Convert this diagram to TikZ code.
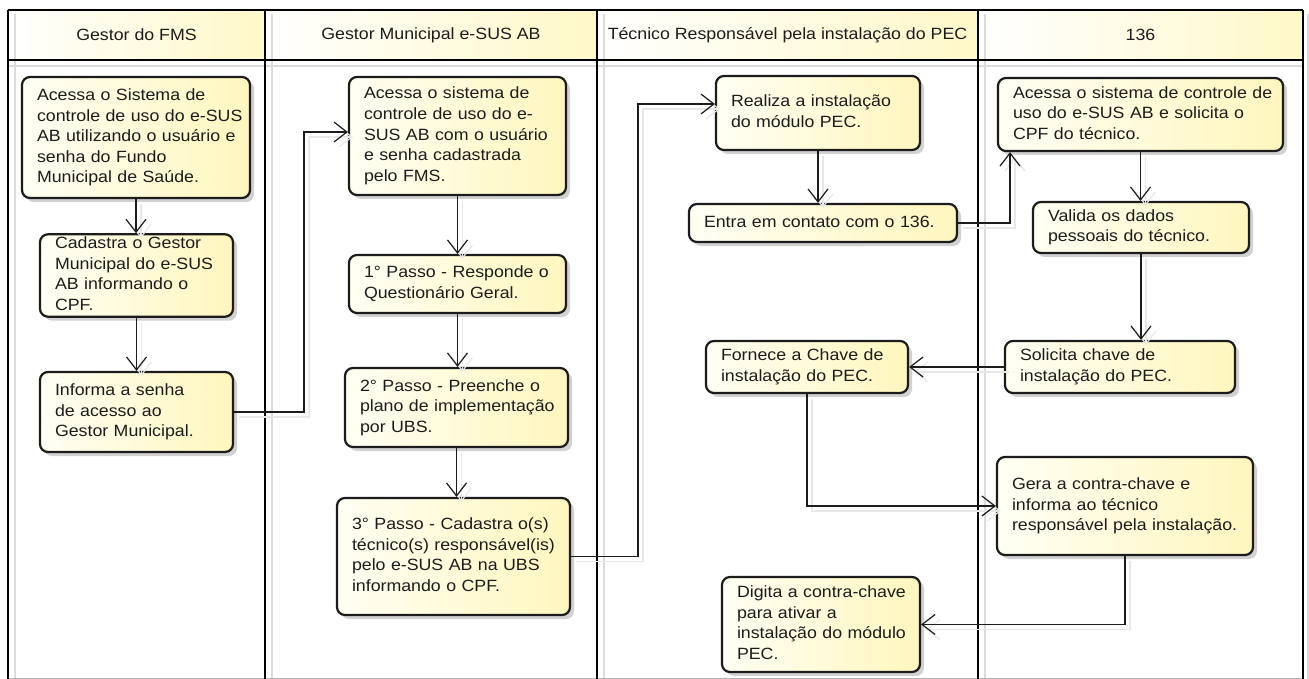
\documentclass[tikz,border=0pt]{standalone}
\usepackage{fontspec}
\setmainfont{Liberation Sans}[FakeStretch=1.09]
\usetikzlibrary{arrows.meta,shadows}
\definecolor{boxL}{RGB}{255,255,244}
\definecolor{boxR}{RGB}{255,246,190}
\definecolor{hdrR}{RGB}{255,248,200}
\definecolor{ink}{RGB}{28,28,28}
\newcommand\ml[1]{\begin{tabular}{@{}l@{}}#1\end{tabular}}
\begin{document}
\begin{tikzpicture}[x=1pt,y=-1pt,
  every node/.style={font=\fontsize{16.3}{20.6}\selectfont, text=ink},
  box/.style={draw=ink, line width=2.2pt, rounded corners=8pt,
    left color=boxL, right color=boxR, inner xsep=15pt, inner ysep=0pt, align=left,
    drop shadow={shadow xshift=4pt, shadow yshift=-4pt, fill=black!40, opacity=0.45}},
  hdr/.style={left color=white, right color=hdrR, inner sep=0pt, minimum height=50pt},
  lane/.style={draw=black, line width=2.6pt},
  lanesh/.style={draw=black!14, line width=1.6pt},
  conn/.style={draw=ink, line width=1.2pt,
    -{Straight Barb[length=13pt,width=20pt,line width=1.2pt]},
    preaction={draw=black!9, line width=1.4pt, transform canvas={xshift=5pt,yshift=-5pt}}}
]
\useasboundingbox (0,0) rectangle (1309,679);
\fill[white] (0,0) rectangle (1309,679);

% headers
\node[hdr, minimum width=257pt] (h1) at (136.5,35) {Gestor do FMS};
\node[hdr, minimum width=332pt] (h2) at (431,35) {Gestor Municipal e-SUS AB};
\node[hdr, minimum width=381pt] (h3) at (787.5,35) {Técnico Responsável pela instalação do PEC};
\node[hdr, minimum width=325pt] (h4) at (1140.5,35) {136};

% lane shadow lines
\foreach \x in {15,272,604,985,1308} \draw[lanesh] (\x,14) -- (\x,679);
\draw[lanesh] (8,66) -- (1303,66);
\draw[black!30, line width=1pt] (8,678) -- (1303,678);

% lane lines
\foreach \x in {8,265,597,978,1303} \draw[lane] (\x,10) -- (\x,679);
\draw[lane] (8,10) -- (1303,10);
\draw[lane] (8,60) -- (1303,60);

% boxes
\node[box, minimum width=228pt, minimum height=121pt, text width=198pt] (n1) at (136,137.5)
  {\ml{Acessa o Sistema de\\controle de uso do e-SUS\\AB utilizando o usuário e\\senha do Fundo\\Municipal de Saúde.}};
\node[box, minimum width=193pt, minimum height=79pt, text width=163pt] (n2) at (136.5,275.5)
  {\ml{Cadastra o Gestor\\Municipal do e-SUS\\AB informando o\\CPF.}};
\node[box, minimum width=193pt, minimum height=80pt, text width=163pt] (n3) at (136.5,412)
  {\ml{Informa a senha\\de acesso ao\\Gestor Municipal.}};
\node[box, minimum width=217pt, minimum height=118pt, text width=187pt] (n4) at (457.5,136)
  {\ml{Acessa o sistema de\\controle de uso do e-\\SUS AB com o usuário\\e senha cadastrada\\pelo FMS.}};
\node[box, minimum width=217pt, minimum height=58pt, text width=187pt] (n5) at (457.5,284)
  {\ml{1° Passo - Responde o\\Questionário Geral.}};
\node[box, minimum width=223pt, minimum height=79pt, text width=193pt] (n6) at (456.5,407.5)
  {\ml{2° Passo - Preenche o\\plano de implementação\\por UBS.}};
\node[box, minimum width=233pt, minimum height=117pt, text width=203pt] (n7) at (453.5,556.5)
  {\ml{3° Passo - Cadastra o(s)\\técnico(s) responsável(is)\\pelo e-SUS AB na UBS\\informando o CPF.}};
\node[box, minimum width=204pt, minimum height=74pt, text width=174pt] (n8) at (818,113)
  {\ml{Realiza a instalação\\do módulo PEC.}};
\node[box, minimum width=268pt, minimum height=38pt, text width=238pt] (n9) at (823,223)
  {\ml{Entra em contato com o 136.}};
\node[box, minimum width=285pt, minimum height=73pt, text width=255pt] (n10) at (1140.5,114.5)
  {\ml{Acessa o sistema de controle de\\uso do e-SUS AB e solicita o\\CPF do técnico.}};
\node[box, minimum width=216pt, minimum height=51pt, text width=186pt] (n11) at (1141,227.5)
  {\ml{Valida os dados\\pessoais do técnico.}};
\node[box, minimum width=230pt, minimum height=52pt, text width=200pt] (n12) at (1120,367)
  {\ml{Solicita chave de\\instalação do PEC.}};
\node[box, minimum width=202pt, minimum height=52pt, text width=172pt] (n13) at (807,367)
  {\ml{Fornece a Chave de\\instalação do PEC.}};
\node[box, minimum width=256pt, minimum height=98pt, text width=226pt] (n14) at (1125,506)
  {\ml{Gera a contra-chave e\\informa ao técnico\\responsável pela instalação.}};
\node[box, minimum width=198pt, minimum height=95pt, text width=168pt] (n15) at (821,624.5)
  {\ml{Digita a contra-chave\\para ativar a\\instalação do módulo\\PEC.}};

% connector bends
\coordinate (c34) at (304,132);
\coordinate (c78) at (638,104);
\coordinate (c910) at (1010,224);

% connectors
\draw[conn] (n1.south) -- (n1.south |- n2.north);
\draw[conn] (n2.south) -- (n2.south |- n3.north);
\draw[conn] (n3.east) -| (c34) -- (n4.west |- c34);
\draw[conn] (n4.south) -- (n4.south |- n5.north);
\draw[conn] (n5.south) -- (n5.south |- n6.north);
\draw[conn] (n6.south) -- (n6.south |- n7.north);
\draw[conn] (n7.east) -| (c78) -- (n8.west |- c78);
\draw[conn] (n8.south) -- (n8.south |- n9.north);
\draw[conn] (n9.east) -| (c910) -- (c910 |- n10.south);
\draw[conn] (n10.south) -- (n10.south |- n11.north);
\draw[conn] (n11.south) -- (n11.south |- n12.north);
\draw[conn] (n12.west) -- (n13.east);
\draw[conn] (n13.south) |- (n14.west);
\draw[conn] (n14.south) |- (n15.east);
\end{tikzpicture}
\end{document}
